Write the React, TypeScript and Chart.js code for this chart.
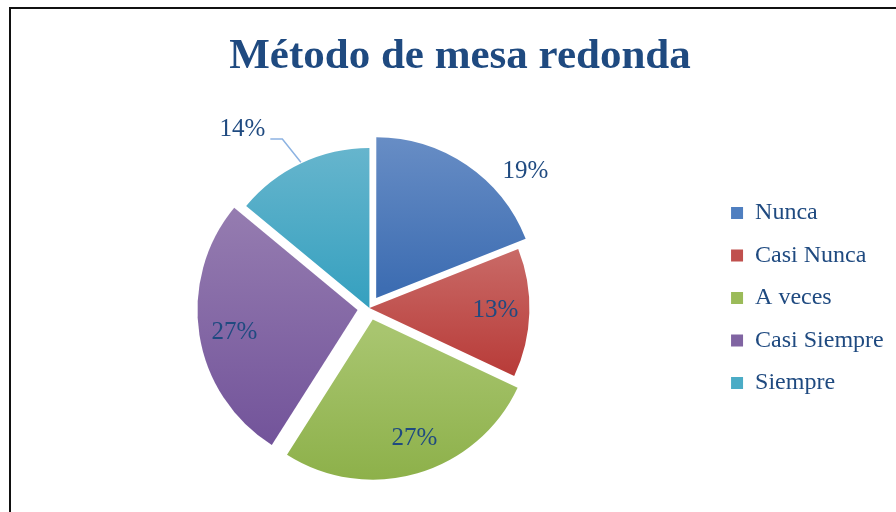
import React, { useEffect, useRef } from 'react';
import { Chart, registerables } from 'chart.js';

Chart.register(...registerables);

const TITLE = 'Método de mesa redonda';
const CATEGORIES = ['Nunca', 'Casi Nunca', 'A veces', 'Casi Siempre', 'Siempre'];
const PERCENTS = [19, 13, 27, 27, 14];
const PERCENT_LABELS = ['19%', '13%', '27%', '27%', '14%'];

// styling
const BASE_COLORS = ['#4F7FC0', '#C0504D', '#9BBB59', '#8064A2', '#4BACC6'];
const TOP_COLORS = ['#6A8FC6', '#C96A67', '#A8C56F', '#957CB0', '#66B5CD'];
const BOTTOM_COLORS = ['#3D6DB2', '#B83B38', '#8BAF47', '#72539A', '#35A0BF'];
const EXPLODE = [48, 0, 48, 48, 0];
const LABEL_PLACE = [
  { k: 1.225, da: 15.4, leader: false },
  { k: 0.7875, da: -0.9, leader: false },
  { k: 0.785, da: -3.2, leader: false },
  { k: 0.782, da: -1.2, leader: false },
  { k: 1.367, da: -10.3, leader: true },
];
const TEXT_COLOR = '#1F4A80';
const SERIF = '"Liberation Serif", "Times New Roman", serif';

function inRange(a0: number, a1: number, t: number) {
  return t >= a0 && t <= a1;
}

function sliceGradient(c: any) {
  const chart = c.chart;
  const i = c.dataIndex;
  const area = chart.chartArea;
  if (!area || i === undefined) return BASE_COLORS[i ?? 0];
  const cy = (area.top + area.bottom) / 2;
  const maxOff = Math.max(...EXPLODE);
  const r = (Math.min(area.right - area.left, area.bottom - area.top) - maxOff) / 2;
  const total = PERCENTS.reduce((a, b) => a + b, 0);
  let acc = 0;
  for (let j = 0; j < i; j++) acc += PERCENTS[j];
  const a0 = -Math.PI / 2 + (acc / total) * 2 * Math.PI;
  const a1 = a0 + (PERCENTS[i] / total) * 2 * Math.PI;
  const mid = (a0 + a1) / 2;
  const ty = (Math.sin(mid) * EXPLODE[i]) / 4;
  const ys = [0, Math.sin(a0) * r, Math.sin(a1) * r];
  if (inRange(a0, a1, Math.PI / 2)) ys.push(r);
  if (inRange(a0, a1, -Math.PI / 2) || inRange(a0, a1, (3 * Math.PI) / 2)) ys.push(-r);
  const y0 = cy + ty + Math.min(...ys);
  const y1 = cy + ty + Math.max(...ys);
  const g = chart.ctx.createLinearGradient(0, y0, 0, y1);
  g.addColorStop(0, TOP_COLORS[i]);
  g.addColorStop(1, BOTTOM_COLORS[i]);
  return g;
}

const sliceLabels = {
  id: 'sliceLabels',
  afterDatasetsDraw(chart: any) {
    const meta = chart.getDatasetMeta(0);
    const ctx = chart.ctx;
    ctx.save();
    ctx.font = `25px ${SERIF}`;
    ctx.fillStyle = TEXT_COLOR;
    ctx.textAlign = 'center';
    ctx.textBaseline = 'middle';
    meta.data.forEach((arc: any, i: number) => {
      const { x, y, startAngle, endAngle, outerRadius } = arc.getProps(
        ['x', 'y', 'startAngle', 'endAngle', 'outerRadius'],
        true
      );
      const mid = (startAngle + endAngle) / 2;
      const off = (arc.options.offset || 0) / 4;
      const cx = x + Math.cos(mid) * off;
      const cy = y + Math.sin(mid) * off;
      const p = LABEL_PLACE[i];
      const a = mid + (p.da * Math.PI) / 180;
      const lx = cx + Math.cos(a) * outerRadius * p.k;
      const ly = cy + Math.sin(a) * outerRadius * p.k;
      const text = PERCENT_LABELS[i];
      if (p.leader) {
        const w = ctx.measureText(text).width;
        const yl = ly + 9;
        const x0 = lx + w / 2 + 5;
        const x1 = x0 + 12;
        const ex = cx + Math.cos(mid) * (outerRadius + 1);
        const ey = cy + Math.sin(mid) * (outerRadius + 1);
        ctx.save();
        ctx.strokeStyle = '#8DB3E2';
        ctx.lineWidth = 1.5;
        ctx.beginPath();
        ctx.moveTo(ex, ey);
        ctx.lineTo(x1, yl);
        ctx.lineTo(x0, yl);
        ctx.stroke();
        ctx.restore();
      }
      ctx.fillText(text, lx, ly);
    });
    ctx.restore();
  },
};

export default function App() {
  const ref = useRef<HTMLCanvasElement>(null);
  useEffect(() => {
    if (!ref.current) return;
    const chart = new Chart(ref.current, {
      type: 'pie',
      data: {
        labels: CATEGORIES,
        datasets: [
          {
            data: PERCENTS,
            backgroundColor: sliceGradient as any,
            borderWidth: 0,
            hoverBorderWidth: 0,
            offset: EXPLODE,
            hoverOffset: 0,
          } as any,
        ],
      },
      options: {
        responsive: false,
        animation: false,
        devicePixelRatio: 1,
        events: [],
        layout: { padding: { top: 104, bottom: 20, left: 26.3, right: 2.3 } },
        plugins: {
          tooltip: { enabled: false },
          title: {
            display: true,
            text: TITLE,
            color: TEXT_COLOR,
            font: { family: SERIF, size: 43, weight: 'bold', lineHeight: 1.2 },
            padding: { top: -72.8, bottom: 41.2 },
          },
          legend: {
            display: true,
            position: 'right',
            fullSize: true,
            align: 'center',
            labels: {
              boxWidth: 12,
              boxHeight: 12,
              padding: 18.5,
              color: TEXT_COLOR,
              font: { family: SERIF, size: 24 },
              generateLabels: () =>
                CATEGORIES.map((c, i) => ({
                  text: c,
                  fillStyle: BASE_COLORS[i],
                  strokeStyle: BASE_COLORS[i],
                  lineWidth: 0,
                  hidden: false,
                  index: i,
                  fontColor: TEXT_COLOR,
                })),
            },
          },
        },
      } as any,
      plugins: [sliceLabels],
    });
    return () => chart.destroy();
  }, []);
  return (
    <div style={{ position: 'fixed', left: 0, top: 0, width: 896, height: 512, background: '#fff', overflow: 'hidden' }}>
      <div
        style={{
          position: 'absolute',
          left: 9,
          top: 7,
          width: 920,
          height: 540,
          borderLeft: '2px solid #111',
          borderTop: '2px solid #111',
          boxSizing: 'border-box',
        }}
      />
      <canvas ref={ref} width={896} height={512} style={{ position: 'absolute', left: 0, top: 0, width: 896, height: 512 }} />
    </div>
  );
}
